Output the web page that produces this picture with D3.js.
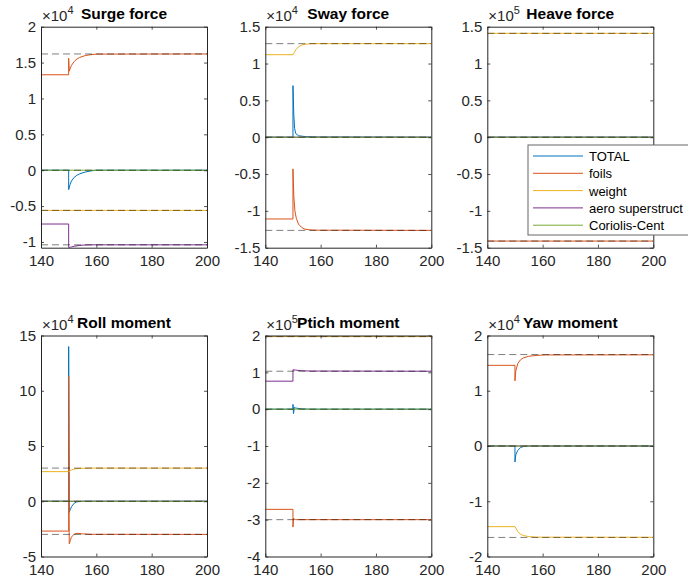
<!DOCTYPE html>
<html>
<head>
<meta charset="utf-8">
<script src="https://cdn.jsdelivr.net/npm/d3@7"></script>
<style>
  body { margin: 0; background: #fff; }
  svg text { font-family: "Liberation Sans", Arial, sans-serif; fill: #262626; }
</style>
</head>
<body>
<div id="chart"></div>
<script>
// panel setup
var titles = ["Surge force", "Sway force", "Heave force", "Roll moment", "Ptich moment", "Yaw moment"];
var exponents = ["4", "4", "5", "4", "5", "4"];
var yDomains = [[-1.08, 2], [-1.5, 1.5], [-1.5, 1.5], [-5, 15], [-4, 2], [-2, 2]];
var yTicks = [
  [-1, -0.5, 0, 0.5, 1, 1.5, 2],
  [-1.5, -1, -0.5, 0, 0.5, 1, 1.5],
  [-1.5, -1, -0.5, 0, 0.5, 1, 1.5],
  [-5, 0, 5, 10, 15],
  [-4, -3, -2, -1, 0, 1, 2],
  [-2, -1, 0, 1, 2]
];
var xTicks = [140, 160, 180, 200];
var seriesNames = ["TOTAL", "foils", "weight", "aero superstruct", "Coriolis-Cent"];
var seriesColors = ["#0072BD", "#D95319", "#EDB120", "#7E2F8E", "#77AC30"];

// Surge force (x1e4)
var surgeTotal = [[140,0],[150,0],[150,-0.27],[150.5,-0.2],[151,-0.15],[152,-0.1],[153,-0.07],[154,-0.05],[156,-0.025],[158,-0.01],[160,0],[200,0]];
var surgeFoils = [[140,1.33],[150,1.33],[150,1.56],[150.2,1.38],[151,1.46],[152,1.515],[153,1.55],[154,1.572],[156,1.598],[158,1.61],[160,1.618],[200,1.62]];
var surgeWeight = [[140,-0.56],[200,-0.56]];
var surgeAero = [[140,-0.75],[150,-0.75],[150,-1.08],[151,-1.07],[152,-1.06],[154,-1.048],[156,-1.042],[158,-1.04],[200,-1.04]];
var surgeCor = [[140,0],[200,0]];
var surgeRefs = [1.62, 0, -0.56, -1.04];

// Sway force (x1e4)
var swayTotal = [[140,0],[150,0],[150,0.7],[150.3,0.3],[150.6,0.12],[151,0.05],[152,0.02],[154,0.01],[158,0.003],[200,0]];
var swayFoils = [[140,-1.11],[150,-1.11],[150,-0.43],[150.3,-0.8],[150.7,-1.0],[151.2,-1.1],[152,-1.18],[153,-1.22],[154,-1.245],[156,-1.258],[158,-1.262],[200,-1.265]];
var swayWeight = [[140,1.12],[150,1.12],[150.5,1.15],[151,1.185],[152,1.225],[153,1.248],[154,1.26],[156,1.268],[158,1.27],[200,1.27]];
var swayAero = [[140,0],[200,0]];
var swayCor = [[140,0],[200,0]];
var swayRefs = [1.27, 0, -1.265];

// Heave force (x1e5)
var heaveTotal = [[140,0],[200,0]];
var heaveFoils = [[140,-1.41],[200,-1.41]];
var heaveWeight = [[140,1.41],[200,1.41]];
var heaveAero = [[140,0],[200,0]];
var heaveCor = [[140,0],[200,0]];
var heaveRefs = [1.41, 0, -1.41];

// Roll moment (x1e4)
var rollTotal = [[140,0],[150,0],[150,14],[150.2,-1.0],[150.6,-0.75],[151,-0.5],[152,-0.18],[153,-0.05],[155,0],[200,0]];
var rollFoils = [[140,-2.7],[150,-2.7],[150,11.3],[150.2,-3.85],[150.6,-3.55],[151,-3.25],[152,-2.97],[153,-2.9],[155,-2.95],[158,-2.99],[200,-3.0]];
var rollWeight = [[140,2.68],[150,2.68],[150.5,2.75],[151,2.84],[152,2.92],[154,2.97],[157,3.0],[200,3.0]];
var rollAero = [[140,0],[200,0]];
var rollCor = [[140,0],[200,0]];
var rollRefs = [3.0, 0, -3.0];

// Pitch moment (x1e5)
var pitchTotal = [[140,0],[150,0],[150,0.13],[150.2,-0.12],[150.5,0.05],[151,0.03],[153,0.01],[156,0],[200,0]];
var pitchFoils = [[140,-2.72],[150,-2.72],[150,-3.2],[150.2,-2.97],[151,-3.0],[200,-3.0]];
var pitchWeight = [[140,1.97],[200,1.97]];
var pitchAero = [[140,0.76],[150,0.76],[150,1.07],[151,1.06],[153,1.045],[156,1.035],[200,1.03]];
var pitchCor = [[140,0],[200,0]];
var pitchRefs = [1.97, 1.03, 0, -3.0];

// Yaw moment (x1e4)
var yawTotal = [[140,0],[150,0],[150,-0.29],[150.3,-0.16],[151,-0.08],[152,-0.03],[153,-0.01],[155,0],[200,0]];
var yawFoils = [[140,1.46],[150,1.46],[150,1.18],[150.3,1.36],[151,1.49],[152,1.56],[153,1.595],[155,1.625],[158,1.64],[161,1.648],[200,1.65]];
var yawWeight = [[140,-1.46],[150,-1.46],[150.5,-1.5],[151,-1.55],[152,-1.595],[153,-1.62],[155,-1.64],[158,-1.65],[200,-1.652]];
var yawAero = [[140,0],[200,0]];
var yawCor = [[140,0],[200,0]];
var yawRefs = [1.655, 0, -1.655];

var panelSeries = [
  [surgeTotal, surgeFoils, surgeWeight, surgeAero, surgeCor],
  [swayTotal, swayFoils, swayWeight, swayAero, swayCor],
  [heaveTotal, heaveFoils, heaveWeight, heaveAero, heaveCor],
  [rollTotal, rollFoils, rollWeight, rollAero, rollCor],
  [pitchTotal, pitchFoils, pitchWeight, pitchAero, pitchCor],
  [yawTotal, yawFoils, yawWeight, yawAero, yawCor]
];
var panelRefs = [surgeRefs, swayRefs, heaveRefs, rollRefs, pitchRefs, yawRefs];

var W = 688, H = 580;
var colX = [41, 265.3, 487.3];
var rowY = [26.7, 335.5];
var pw = 166, ph = 221;

var svg = d3.select("#chart").append("svg")
    .attr("width", W)
    .attr("height", H);

titles.forEach(function(title, k) {
  var ox = colX[k % 3], oy = rowY[Math.floor(k / 3)];
  var g = svg.append("g").attr("transform", "translate(" + ox + "," + oy + ")");

  var x = d3.scaleLinear().domain([140, 200]).range([0, pw]);
  var y = d3.scaleLinear().domain(yDomains[k]).range([ph, 0]);

  g.append("rect").attr("width", pw).attr("height", ph).style("fill", "#fff");

  g.append("clipPath").attr("id", "clip" + k)
    .append("rect").attr("width", pw).attr("height", ph);

  var plot = g.append("g").attr("clip-path", "url(#clip" + k + ")");
  var line = d3.line()
      .x(function(d) { return x(d[0]); })
      .y(function(d) { return y(d[1]); });

  panelSeries[k].forEach(function(s, i) {
    plot.append("path")
      .datum(s)
      .attr("d", line)
      .style("fill", "none")
      .style("stroke", seriesColors[i])
      .style("stroke-width", 1);
  });

  panelRefs[k].forEach(function(r) {
    plot.append("line")
      .attr("x1", x(140)).attr("x2", x(200))
      .attr("y1", y(r)).attr("y2", y(r))
      .style("stroke", "#000")
      .style("stroke-opacity", 0.5)
      .style("stroke-width", 1)
      .style("stroke-dasharray", "7,4");
  });

  // axes: ticks inward on all four sides, box on
  var tl = 3;
  var bottom = d3.axisBottom(x).tickValues(xTicks).tickSizeInner(-tl).tickSizeOuter(0).tickPadding(8);
  var top = d3.axisTop(x).tickValues(xTicks).tickSizeInner(-tl).tickSizeOuter(0).tickFormat("");
  var left = d3.axisLeft(y).tickValues(yTicks[k]).tickSizeInner(-tl).tickSizeOuter(0).tickPadding(5)
      .tickFormat(function(d) { return String(d); });
  var right = d3.axisRight(y).tickValues(yTicks[k]).tickSizeInner(-tl).tickSizeOuter(0).tickFormat("");

  var axes = [
    g.append("g").attr("transform", "translate(0," + ph + ")").call(bottom),
    g.append("g").call(top),
    g.append("g").call(left),
    g.append("g").attr("transform", "translate(" + pw + ",0)").call(right)
  ];
  axes.forEach(function(a) {
    a.select(".domain").style("stroke", "#262626").style("stroke-width", 1);
    a.selectAll(".tick line").style("stroke", "#262626").style("stroke-width", 0.8);
    a.selectAll(".tick text")
      .style("font-size", "15px")
      .style("fill", "#262626")
      .style("font-family", "'Liberation Sans', Arial, sans-serif");
  });

  // exponent label
  var ex = g.append("text").attr("x", 1).attr("y", -6).style("font-size", "15px");
  ex.append("tspan").text("\u00d710").style("fill", "#262626");
  ex.append("tspan").text(exponents[k]).attr("dy", -7).style("font-size", "11px");

  g.append("text")
    .attr("x", pw / 2)
    .attr("y", -8)
    .attr("text-anchor", "middle")
    .style("font-size", "15.5px")
    .style("font-weight", "bold")
    .style("fill", "#000")
    .text(title);
});

// legend (placed over the Heave panel)
var lg = svg.append("g").attr("transform", "translate(528,145)");
lg.append("rect")
  .attr("width", 170).attr("height", 90)
  .style("fill", "#fff")
  .style("stroke", "#666")
  .style("stroke-width", 1);
seriesNames.forEach(function(name, i) {
  var yy = 11 + i * 17.3;
  lg.append("line")
    .attr("x1", 5).attr("x2", 55)
    .attr("y1", yy).attr("y2", yy)
    .style("stroke", seriesColors[i])
    .style("stroke-width", 1);
  lg.append("text")
    .attr("x", 61).attr("y", yy + 5)
    .style("font-size", "13px")
    .style("fill", "#000")
    .text(name);
});
</script>
</body>
</html>
